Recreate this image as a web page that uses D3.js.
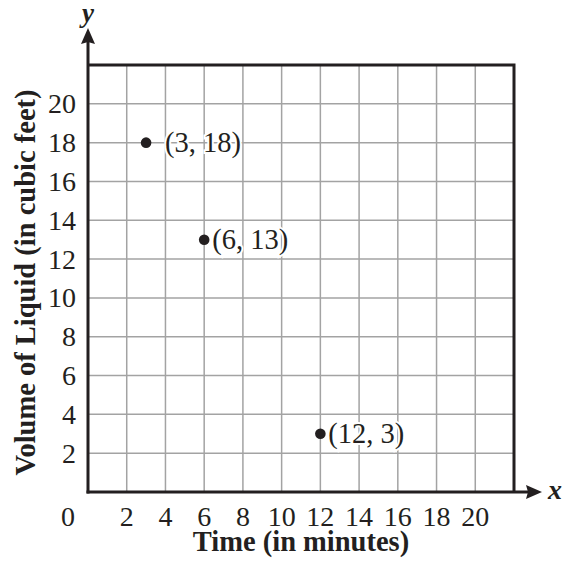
<!DOCTYPE html>
<html>
<head>
<meta charset="utf-8">
<script src="https://cdn.jsdelivr.net/npm/d3@7"></script>
<style>
  html, body { margin: 0; padding: 0; background: #fff; }
  svg { display: block; }
  text { font-family: "Liberation Serif", "Times New Roman", serif; fill: #231f20; }
</style>
</head>
<body>
<svg id="chart" width="563" height="569"></svg>
<script>
// data
var timeValues = [3, 6, 12];
var volumeValues = [18, 13, 3];
var pointLabels = ['(3, 18)', '(6, 13)', '(12, 3)'];
var xTicks = [2, 4, 6, 8, 10, 12, 14, 16, 18, 20];
var yTicks = [2, 4, 6, 8, 10, 12, 14, 16, 18, 20];
var axisMax = 22;

var svg = d3.select('#chart');
var plotL = 88, plotR = 514, plotT = 65, plotB = 492;

var x = d3.scaleLinear().domain([0, axisMax]).range([plotL, plotR]);
var y = d3.scaleLinear().domain([0, axisMax]).range([plotB, plotT]);

// grid
var grid = svg.append('g').attr('stroke', '#a3a3a3').attr('stroke-width', 1.5);
grid.selectAll('line.v').data(xTicks).enter().append('line')
    .attr('class', 'v')
    .attr('x1', d => x(d)).attr('x2', d => x(d))
    .attr('y1', plotT).attr('y2', plotB);
grid.selectAll('line.h').data(yTicks).enter().append('line')
    .attr('class', 'h')
    .attr('y1', d => y(d)).attr('y2', d => y(d))
    .attr('x1', plotL).attr('x2', plotR);

// frame (top + right border)
svg.append('path')
    .attr('d', `M${plotL},${plotT}H${plotR}V${plotB}`)
    .attr('fill', 'none').attr('stroke', '#231f20').attr('stroke-width', 3);

// axes with arrows
svg.append('line')
    .attr('x1', plotL - 1.5).attr('x2', 530).attr('y1', plotB).attr('y2', plotB)
    .attr('stroke', '#231f20').attr('stroke-width', 3);
svg.append('line')
    .attr('x1', plotL).attr('x2', plotL).attr('y1', plotB + 1.5).attr('y2', 40)
    .attr('stroke', '#231f20').attr('stroke-width', 3);
svg.append('path')
    .attr('d', `M542,${plotB}L526,${plotB - 7}L528,${plotB}L526,${plotB + 7}Z`)
    .attr('fill', '#231f20');
svg.append('path')
    .attr('d', `M${plotL},28L${plotL - 7},44L${plotL},42L${plotL + 7},44Z`)
    .attr('fill', '#231f20');

svg.append('text').text('x')
    .attr('x', 555).attr('y', 499)
    .attr('text-anchor', 'middle')
    .style('font-size', '28px').style('font-style', 'italic').style('font-weight', 'bold');
svg.append('text').text('y')
    .attr('x', plotL).attr('y', 22)
    .attr('text-anchor', 'middle')
    .style('font-size', '27px').style('font-style', 'italic').style('font-weight', 'bold');

// tick labels
svg.append('g').selectAll('text').data(xTicks).enter().append('text')
    .attr('x', d => x(d)).attr('y', 526)
    .attr('text-anchor', 'middle')
    .style('font-size', '28px')
    .text(d => d);
svg.append('text').text('0')
    .attr('x', 68).attr('y', 526)
    .attr('text-anchor', 'middle')
    .style('font-size', '28px');
svg.append('g').selectAll('text').data(yTicks).enter().append('text')
    .attr('x', 76).attr('y', d => y(d)).attr('dy', '0.34em')
    .attr('text-anchor', 'end')
    .style('font-size', '28px')
    .text(d => d);

// axis titles
svg.append('text').text('Time (in minutes)')
    .attr('x', (plotL + plotR) / 2).attr('y', 551)
    .attr('text-anchor', 'middle')
    .style('font-size', '28.5px').style('font-weight', 'bold');
svg.append('text').text('Volume of Liquid (in cubic feet)')
    .attr('transform', `translate(35,${(88 + 477) / 2}) rotate(-90)`)
    .attr('text-anchor', 'middle')
    .style('font-size', '28.5px').style('font-weight', 'bold');

// points
var labelGap = [19, 8, 8];
var pts = svg.append('g').selectAll('g').data(timeValues).enter().append('g');
pts.append('text')
    .attr('x', (d, i) => x(d) + labelGap[i])
    .attr('y', (d, i) => y(volumeValues[i])).attr('dy', '0.34em')
    .style('font-size', '28.5px')
    .attr('stroke', '#fff').attr('stroke-width', 4).attr('paint-order', 'stroke')
    .text((d, i) => pointLabels[i]);
pts.append('circle')
    .attr('cx', d => x(d))
    .attr('cy', (d, i) => y(volumeValues[i]))
    .attr('r', 5.3)
    .attr('fill', '#231f20');
</script>
</body>
</html>
